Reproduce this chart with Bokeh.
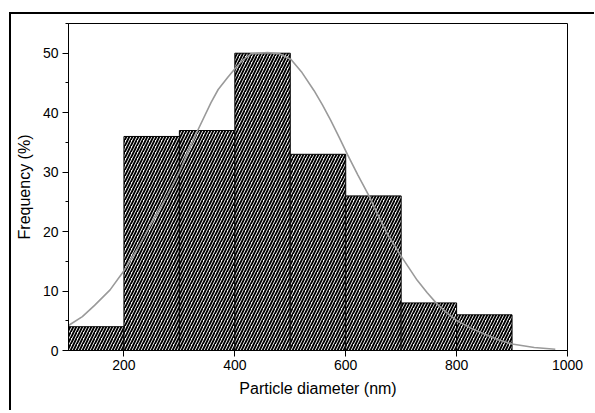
from bokeh.plotting import figure
from bokeh.models import Range1d, FixedTicker, ColumnDataSource
from bokeh.embed import file_html
from bokeh.resources import INLINE

# Histogram data
bin_left = [100, 200, 300, 400, 500, 600, 700, 800]
bin_right = [200, 300, 400, 500, 600, 700, 800, 900]
freq = [4, 36, 37, 50, 33, 26, 8, 6]

# Fitted distribution curve
curve_x = [100, 125, 147, 175, 200, 225, 249, 275, 300, 315, 333, 357, 370,
           387, 402, 415, 429, 459, 480, 501, 520, 543, 558, 573, 588, 603,
           622, 642, 658, 675, 687, 699, 714, 729, 747, 765, 783, 801, 825,
           849, 875, 900, 940, 978]
curve_y = [4.2, 5.7, 7.6, 10.2, 13.4, 17.2, 21.3, 25.5, 30.0, 33.3, 37.0,
           41.7, 43.9, 45.9, 47.6, 48.9, 49.9, 50.1, 49.9, 49.0, 46.9, 43.7,
           41.3, 38.7, 35.9, 33.0, 29.5, 26.0, 22.8, 19.6, 17.8, 16.0, 13.9,
           11.8, 9.7, 7.8, 6.3, 5.0, 3.8, 2.8, 1.8, 1.1, 0.5, 0.2]

x_ticks = [200, 400, 600, 800, 1000]
y_ticks = [0, 10, 20, 30, 40, 50]
y_minor = [5, 15, 25, 35, 45, 55]

FONT = "Liberation Sans"

p = figure(frame_width=499, frame_height=327,
           x_range=Range1d(100, 1000), y_range=Range1d(0, 55),
           output_backend="svg", toolbar_location=None,
           min_border_left=57, min_border_top=9, min_border_right=27,
           min_border_bottom=60)
p.styles = {"margin-left": "9px", "margin-top": "12px",
            "border-top": "2px solid black", "border-left": "2px solid black"}

p.xgrid.visible = False
p.ygrid.visible = False
p.outline_line_color = "black"
p.outline_line_width = 1

src = ColumnDataSource(dict(left=bin_left, right=bin_right, top=freq,
                            bottom=[0] * len(freq)))
p.quad(left="left", right="right", top="top", bottom="bottom", source=src,
       fill_color="white", line_color="black", line_width=1,
       hatch_pattern="right_diagonal_line", hatch_color="black",
       hatch_scale=6, hatch_weight=1.9)

p.line(curve_x, curve_y, line_color="#9a9a9a", line_width=1.6)

p.xaxis.ticker = FixedTicker(ticks=x_ticks)
p.yaxis.ticker = FixedTicker(ticks=y_ticks, minor_ticks=y_minor)

for ax in (p.xaxis[0], p.yaxis[0]):
    ax.axis_line_color = "black"
    ax.major_tick_line_color = "black"
    ax.minor_tick_line_color = "black"
    ax.major_tick_out = 6
    ax.major_tick_in = 0
    ax.minor_tick_out = 3
    ax.minor_tick_in = 0
    ax.major_label_text_font = FONT
    ax.major_label_text_font_size = "14px"
    ax.major_label_text_color = "black"
    ax.axis_label_text_font = FONT
    ax.axis_label_text_font_size = "16px"
    ax.axis_label_text_font_style = "normal"
    ax.axis_label_text_color = "black"

p.xaxis.minor_tick_out = 0
p.xaxis.axis_label = "Particle diameter (nm)"
p.yaxis.axis_label = "Frequency (%)"
p.xaxis.major_label_standoff = 3
p.yaxis.major_label_standoff = 4
p.xaxis.axis_label_standoff = 7
p.yaxis.axis_label_standoff = 7

open("out.html", "w").write(file_html(p, INLINE))
